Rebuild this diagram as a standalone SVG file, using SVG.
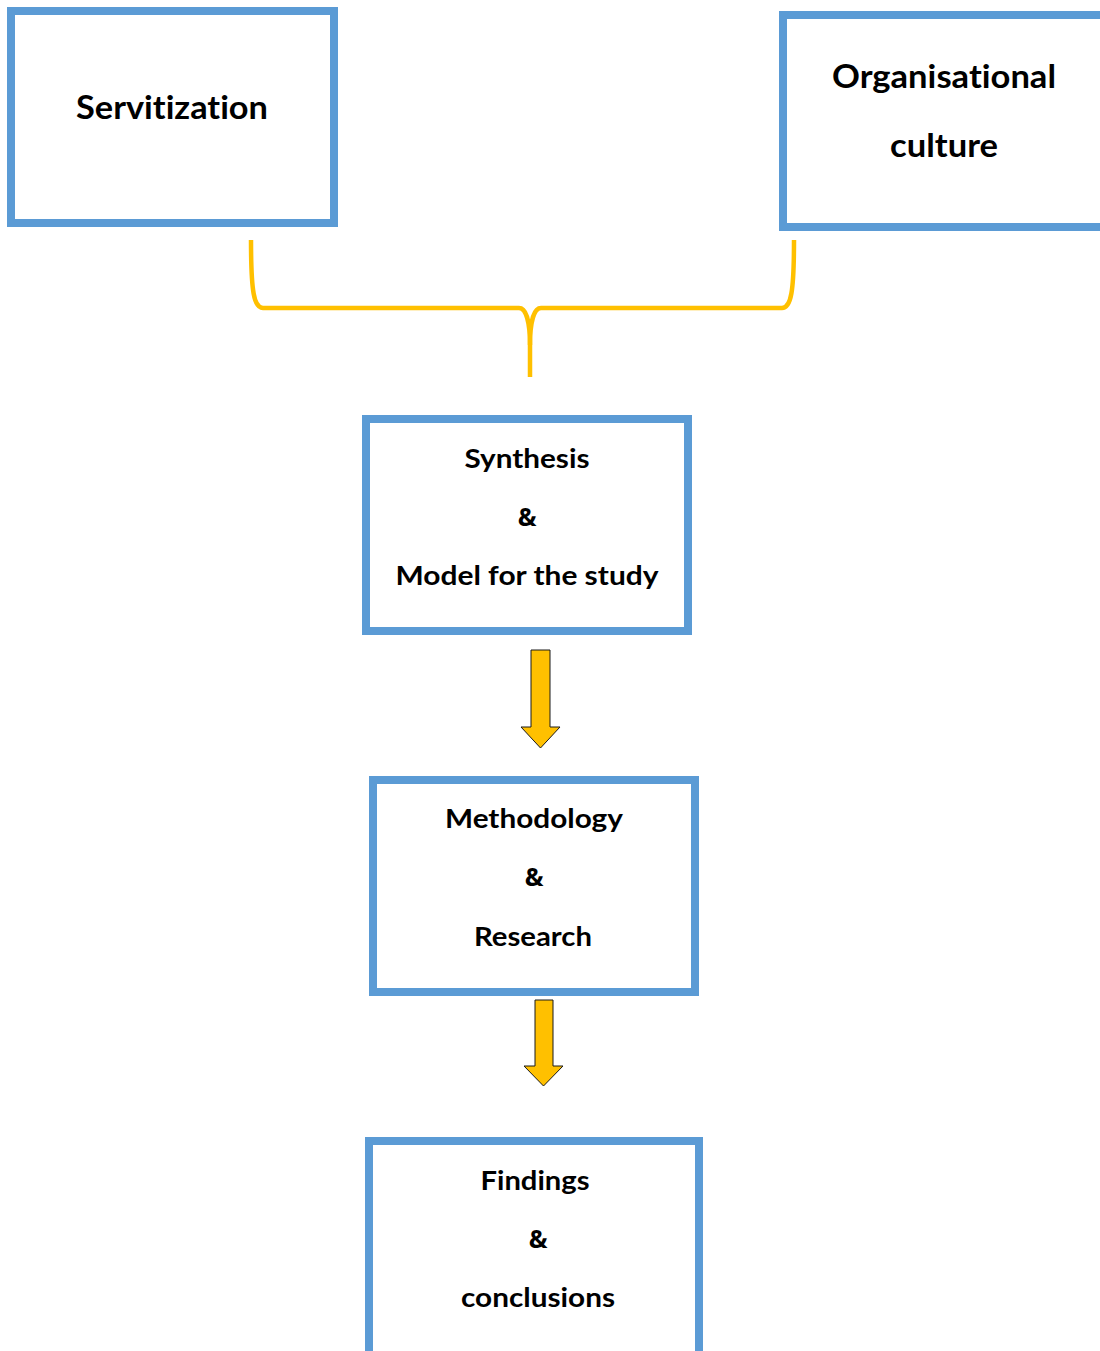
<svg xmlns="http://www.w3.org/2000/svg" width="1100" height="1351" viewBox="0 0 1100 1351">
  <style>
    .box { fill: #FFFFFF; stroke: #5B9BD5; stroke-width: 8; }
    .lbl { font-family: Lato, "Open Sans", "Liberation Sans", sans-serif; font-weight: bold; fill: #000000; text-anchor: middle; font-variant-ligatures: none; }
    .big { font-size: 33px; }
    .small { font-size: 26px; }
    .amp { font-family: "Open Sans", Lato, "Liberation Sans", sans-serif; font-size: 25px; }
    .brace { fill: none; stroke: #FFC000; stroke-width: 4.5; stroke-linejoin: round; }
    .arrow { fill: #FFC000; stroke: #1A1A1A; stroke-width: 1; stroke-linejoin: miter; }
  </style>
  <rect width="1100" height="1351" fill="#FFFFFF"/>

  <g id="node-servitization">
    <rect class="box" x="11" y="11" width="323" height="212"/>
    <text class="lbl big" x="172" y="119" textLength="192" lengthAdjust="spacingAndGlyphs">Servitization</text>
  </g>

  <g id="node-culture">
    <rect class="box" x="783" y="15" width="330" height="212"/>
    <text class="lbl big" x="944" y="88" textLength="224" lengthAdjust="spacingAndGlyphs">Organisational</text>
    <text class="lbl big" x="944" y="157" textLength="108" lengthAdjust="spacingAndGlyphs">culture</text>
  </g>

  <g id="node-synthesis">
    <rect class="box" x="366" y="419" width="322" height="212"/>
    <text class="lbl small" x="527" y="468" textLength="125" lengthAdjust="spacingAndGlyphs">Synthesis</text>
    <text class="lbl amp" x="527" y="526">&amp;</text>
    <text class="lbl small" x="527" y="585" textLength="263" lengthAdjust="spacingAndGlyphs">Model for the study</text>
  </g>

  <g id="node-methodology">
    <rect class="box" x="373" y="780" width="322" height="212"/>
    <text class="lbl small" x="534" y="828" textLength="178" lengthAdjust="spacingAndGlyphs">Methodology</text>
    <text class="lbl amp" x="534" y="886">&amp;</text>
    <text class="lbl small" x="533" y="946" textLength="118" lengthAdjust="spacingAndGlyphs">Research</text>
  </g>

  <g id="node-findings">
    <rect class="box" x="369" y="1141" width="330" height="216"/>
    <text class="lbl small" x="535" y="1190" textLength="109" lengthAdjust="spacingAndGlyphs">Findings</text>
    <text class="lbl amp" x="538" y="1248">&amp;</text>
    <text class="lbl small" x="538" y="1307" textLength="154" lengthAdjust="spacingAndGlyphs">conclusions</text>
  </g>

  <g id="connectors">
    <!-- curly brace joining the two top boxes -->
    <path class="brace" d="M251,240 C251,292 254,308 263,308 L519,308 C526,308 530,322 530,345 L530,377"/>
    <path class="brace" d="M794,240 C794,292 791,308 782,308 L541,308 C534,308 530,322 530,345"/>
    <!-- block arrows -->
    <path class="arrow" d="M531,650 L550,650 L550,727 L560,727 L540.5,748 L521,727 L531,727 Z"/>
    <path class="arrow" d="M535,1000 L553,1000 L553,1066 L563,1066 L543.5,1086 L524,1066 L535,1066 Z"/>
  </g>
</svg>
